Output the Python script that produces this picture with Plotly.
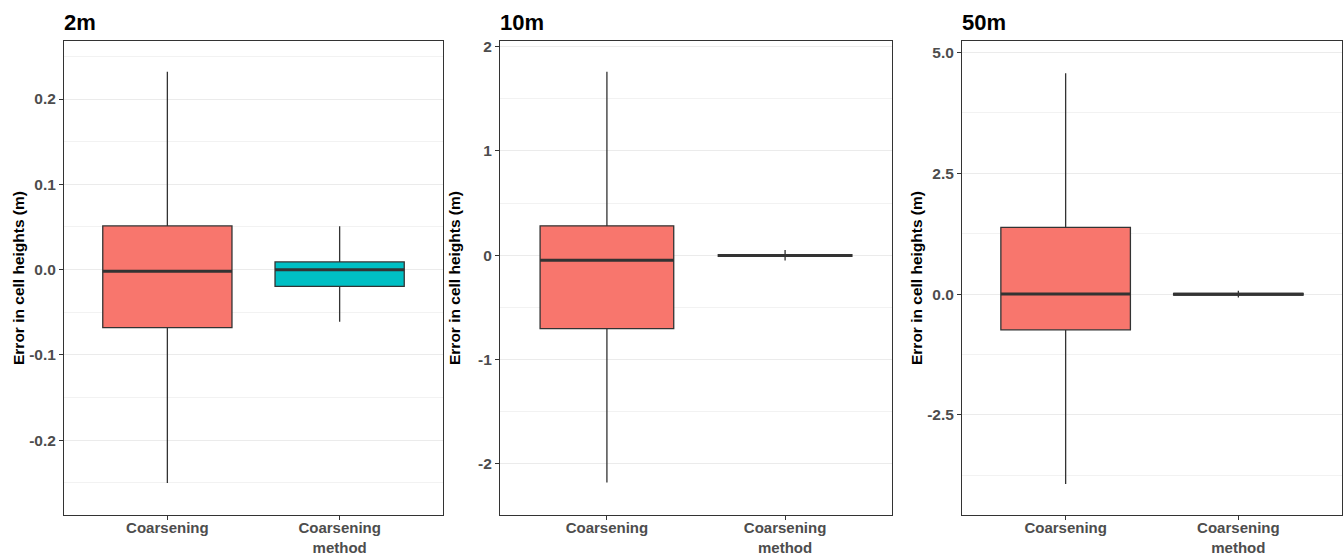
import plotly.graph_objects as go

# ---- data ----
panels = ["2m", "10m", "50m"]
categories = ["Coarsening", "Coarsening<br>method"]
box_colors = ["#F8766D", "#00BFC4"]

# per panel: [Coarsening, Coarsening method]
lower_2m = [-0.250, -0.061]
q1_2m = [-0.068, -0.0195]
median_2m = [-0.002, 0.000]
q3_2m = [0.0512, 0.009]
upper_2m = [0.232, 0.051]

lower_10m = [-2.18, -0.05]
q1_10m = [-0.705, -0.012]
median_10m = [-0.048, -0.003]
q3_10m = [0.282, 0.006]
upper_10m = [1.76, 0.05]

lower_50m = [-3.93, -0.07]
q1_50m = [-0.74, -0.02]
median_50m = [0.00, -0.005]
q3_50m = [1.38, 0.015]
upper_50m = [4.57, 0.07]

yranges = [[-0.2876, 0.268], [-2.493, 2.055], [-4.57, 5.236]]
ytick_vals = [[-0.2, -0.1, 0.0, 0.1, 0.2], [-2, -1, 0, 1, 2], [-2.5, 0.0, 2.5, 5.0]]
ytick_text = [["-0.2", "-0.1", "0.0", "0.1", "0.2"], ["-2", "-1", "0", "1", "2"], ["-2.5", "0.0", "2.5", "5.0"]]
yminor_vals = [[-0.25, -0.15, -0.05, 0.05, 0.15, 0.25], [-2.5, -1.5, -0.5, 0.5, 1.5], [-3.75, -1.25, 1.25, 3.75]]

stats = [
    (lower_2m, q1_2m, median_2m, q3_2m, upper_2m),
    (lower_10m, q1_10m, median_10m, q3_10m, upper_10m),
    (lower_50m, q1_50m, median_50m, q3_50m, upper_50m),
]

# ---- layout geometry ----
W, H = 1343, 555
xdoms = [(64, 443), (500, 892), (962, 1342)]
ytop, ybot = 41, 515
ydom = [1 - ybot / H, 1 - ytop / H]
box_w = 0.75
positions = [1, 2]

fig = go.Figure()
FONT = "Liberation Sans, Arial, sans-serif"
LINE = "#333333"
GRID = "#EBEBEB"

for i, (lo, q1, med, q3, up) in enumerate(stats):
    suffix = "" if i == 0 else str(i + 1)
    xa, ya = "x" + suffix, "y" + suffix
    for j in range(2):
        fig.add_trace(go.Box(
            x=[positions[j]], q1=[q1[j]], median=[med[j]], q3=[q3[j]],
            lowerfence=[lo[j]], upperfence=[up[j]],
            width=box_w, whiskerwidth=0,
            fillcolor=box_colors[j], line=dict(color=LINE, width=1.3),
            boxpoints=False, xaxis=xa, yaxis=ya, showlegend=False,
            hoverinfo="skip",
        ))
        fig.add_trace(go.Scatter(
            x=[positions[j] - box_w / 2, positions[j] + box_w / 2],
            y=[med[j], med[j]], mode="lines",
            line=dict(color=LINE, width=3), xaxis=xa, yaxis=ya,
            showlegend=False, hoverinfo="skip",
        ))

    xd = [xdoms[i][0] / W, xdoms[i][1] / W]
    axis_common = dict(showline=True, mirror=True, linecolor=LINE, linewidth=1,
                       ticks="outside", ticklen=4, tickcolor=LINE, zeroline=False,
                       automargin=False)
    fig.update_layout(**{
        ("xaxis" + suffix): dict(
            domain=xd, anchor=ya, range=[0.4, 2.6], tickmode="array",
            tickvals=positions, ticktext=categories, showgrid=False,
            ticklabelstandoff=-5,
            tickfont=dict(family=FONT, size=15, color="#4D4D4D", weight="bold"),
            **axis_common),
        ("yaxis" + suffix): dict(
            domain=ydom, anchor=xa, range=yranges[i], tickmode="array",
            tickvals=ytick_vals[i], ticktext=ytick_text[i],
            showgrid=True, gridcolor=GRID, gridwidth=1,
            minor=dict(tickmode="array", tickvals=yminor_vals[i], showgrid=True,
                       gridcolor="#F2F2F2", gridwidth=1),
            tickfont=dict(family=FONT, size=15.5, color="#4D4D4D", weight="bold"),
            **axis_common),
    })

    # panel title
    fig.add_annotation(text="<b>" + panels[i] + "</b>", xref="paper", yref="paper",
                       x=xd[0] - 2 / W, y=1 - 22 / H, xanchor="left", yanchor="middle",
                       showarrow=False, font=dict(family=FONT, size=22, color="black"))
    # y axis title
    fig.add_annotation(text="<b>Error in cell heights (m)</b>", xref="paper", yref="paper",
                       x=(xdoms[i][0] - 46) / W, y=(ydom[0] + ydom[1]) / 2,
                       xanchor="center", yanchor="middle", textangle=-90,
                       showarrow=False, font=dict(family=FONT, size=15.5, color="black"))

fig.update_layout(width=W, height=H, margin=dict(l=0, r=0, t=0, b=0),
                  paper_bgcolor="white", plot_bgcolor="white", showlegend=False)

fig.write_html("out.html")
